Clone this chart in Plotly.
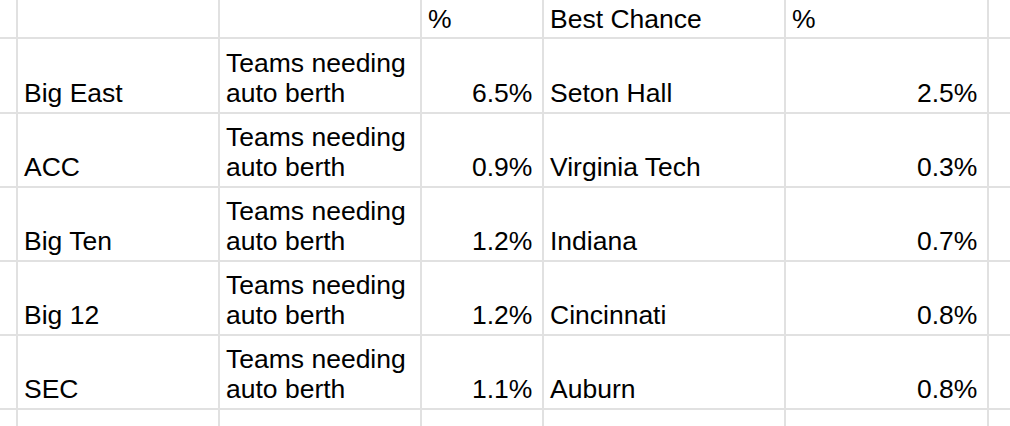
import textwrap
import plotly.graph_objects as go

# table contents
headers = ["", "", "%", "Best Chance", "%"]
conferences = ["Big East", "ACC", "Big Ten", "Big 12", "SEC"]
descriptions = ["Teams needing auto berth"] * 5
conf_pct = [6.5, 0.9, 1.2, 1.2, 1.1]
best_teams = ["Seton Hall", "Virginia Tech", "Indiana", "Cincinnati", "Auburn"]
best_pct = [2.5, 0.3, 0.7, 0.8, 0.8]

# sheet geometry (pixels)
W, H = 1010, 426
col_edges = [17, 219, 421, 543, 785, 988]
row_edges = [38, 113, 187, 261, 335, 409]
grid_color = "#e1e1e1"
font = dict(family="Arial, Liberation Sans, sans-serif", size=26.5, color="#000000")
line_gap = 30

fig = go.Figure()
fig.add_trace(go.Scatter(x=[0, W], y=[0, H], mode="markers",
                         marker=dict(opacity=0), hoverinfo="skip", showlegend=False))

# grid lines
for x in col_edges:
    fig.add_shape(type="line", x0=x, x1=x, y0=0, y1=H, xref="x", yref="y",
                  line=dict(color=grid_color, width=2), layer="below")
for y in row_edges:
    fig.add_shape(type="line", x0=0, x1=W, y0=y, y1=y, xref="x", yref="y",
                  line=dict(color=grid_color, width=2), layer="below")


def cell_text(text, col, y, align="left"):
    if align == "left":
        x = col_edges[col] + 6
    else:
        x = col_edges[col + 1] - 10
    fig.add_annotation(x=x, y=y, xref="x", yref="y", text=text, showarrow=False,
                       xanchor=align, yanchor="middle", font=font, borderpad=0)


# header row
for i, h in enumerate(headers):
    if h:
        cell_text(h, i, row_edges[0] - 19)

# data rows, text sits at the bottom of each cell
for r in range(len(conferences)):
    bottom = row_edges[r + 1]
    base = bottom - 20
    cell_text(conferences[r], 0, base)
    lines = textwrap.wrap(descriptions[r], 13)
    for k, ln in enumerate(lines):
        cell_text(ln, 1, base - (len(lines) - 1 - k) * line_gap)
    cell_text(f"{conf_pct[r]:.1f}%", 2, base, "right")
    cell_text(best_teams[r], 3, base)
    cell_text(f"{best_pct[r]:.1f}%", 4, base, "right")

fig.update_layout(
    width=W, height=H,
    margin=dict(l=0, r=0, t=0, b=0),
    paper_bgcolor="white", plot_bgcolor="white",
    xaxis=dict(range=[0, W], visible=False, fixedrange=True),
    yaxis=dict(range=[H, 0], visible=False, fixedrange=True),
    showlegend=False,
)

fig.write_html("out.html", config={"displayModeBar": False},
               post_script="document.body.style.margin='0';")
